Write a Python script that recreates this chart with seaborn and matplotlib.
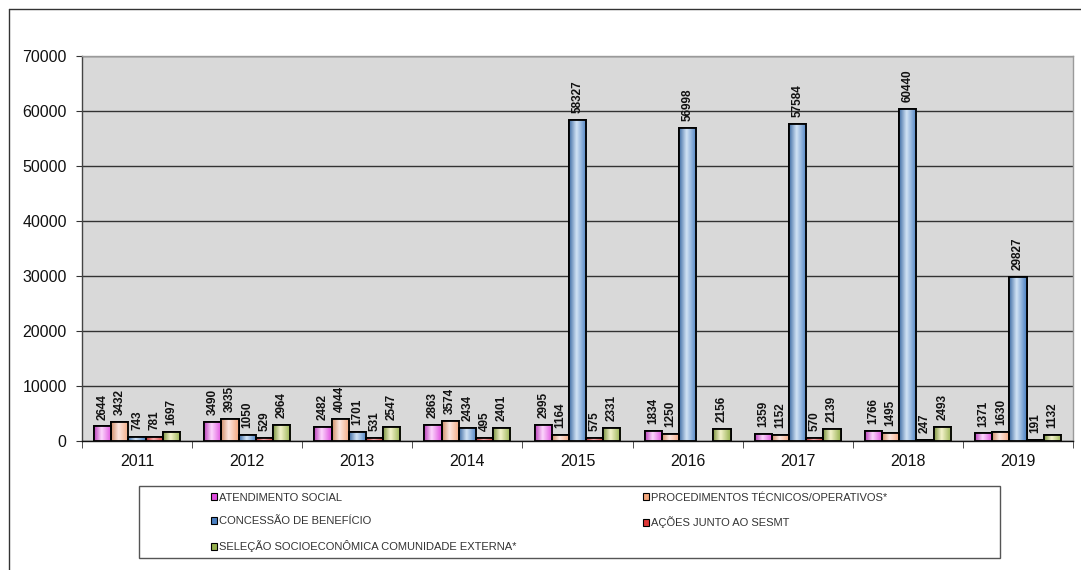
import numpy as np
import pandas as pd
import matplotlib
matplotlib.use("Agg")
import matplotlib.pyplot as plt
import seaborn as sns
from matplotlib.colors import LinearSegmentedColormap, to_rgb
from matplotlib.patches import Patch, Rectangle
from matplotlib.lines import Line2D

# dados
years = ["2011", "2012", "2013", "2014", "2015", "2016", "2017", "2018", "2019"]
atendimento = [2644, 3490, 2482, 2863, 2995, 1834, 1359, 1766, 1371]
procedimentos = [3432, 3935, 4044, 3574, 1164, 1250, 1152, 1495, 1630]
concessao = [743, 1050, 1701, 2434, 58327, 56998, 57584, 60440, 29827]
acoes = [781, 529, 531, 495, 575, np.nan, 570, 247, 191]
selecao = [1697, 2964, 2547, 2401, 2331, 2156, 2139, 2493, 1132]

series_names = [
    "ATENDIMENTO SOCIAL",
    "PROCEDIMENTOS TÉCNICOS/OPERATIVOS*",
    "CONCESSÃO DE BENEFÍCIO",
    "AÇÕES JUNTO AO SESMT",
    "SELEÇÃO SOCIOECONÔMICA COMUNIDADE EXTERNA*",
]
colors = ["#de4ede", "#f4a77c", "#4a80c2", "#df3838", "#95b04e"]
highlights = ["#fcd6fc", "#fde8e2", "#d2e3f5", "#f8b4b4", "#f4f3cc"]

df = pd.DataFrame({
    "ano": years,
    series_names[0]: atendimento,
    series_names[1]: procedimentos,
    series_names[2]: concessao,
    series_names[3]: acoes,
    series_names[4]: selecao,
}).melt(id_vars="ano", var_name="serie", value_name="valor").dropna()

sns.set_style("white")
plt.rcParams["font.family"] = ["Liberation Sans", "DejaVu Sans"]

W, H = 1081, 570
fig = plt.figure(figsize=(W / 100, H / 100), dpi=100)
ax = fig.add_axes([82 / W, 1 - 441 / H, (1073 - 82) / W, (441 - 56) / H])
ax.set_facecolor("#d9d9d9")

sns.barplot(data=df, x="ano", y="valor", hue="serie", order=years,
            hue_order=series_names, palette=dict(zip(series_names, colors)),
            width=0.78, edgecolor="black", linewidth=1.3, errorbar=None,
            legend=False, ax=ax)

# gradiente estilo Excel em cada barra
grad = np.linspace(0, 1, 64).reshape(1, -1)
for cont, base, light in zip(ax.containers, colors, highlights):
    b = np.array(to_rgb(base))
    cmap = LinearSegmentedColormap.from_list("g", [(0, b * 0.85), (0.42, to_rgb(light)), (1, b)])
    for bar in cont:
        h = bar.get_height()
        if not np.isfinite(h) or h <= 0:
            continue
        x0, w = bar.get_x(), bar.get_width()
        im = ax.imshow(grad, cmap=cmap, extent=[x0, x0 + w, 0, h], aspect="auto",
                       interpolation="bilinear", zorder=bar.get_zorder() + 0.1)
        im.set_clip_path(bar)
        ax.add_patch(Rectangle((x0, 0), w, h, fill=False, edgecolor="black",
                               lw=1.3, zorder=bar.get_zorder() + 0.2))
    labels = [f"{v:.0f}" if np.isfinite(v) else "" for v in cont.datavalues]
    ax.bar_label(cont, labels=labels, rotation=90, padding=5, fontsize=8.5,
                 fontweight="bold", color="#111",
                 family=["Liberation Sans Narrow", "Liberation Sans"])

ax.set_xlim(-0.5, 8.5)
ax.set_ylim(0, 70000)
ax.set_axisbelow(True)
ax.yaxis.grid(True, color="#333333", lw=1)
ax.set_xlabel("")
ax.set_ylabel("")

ax.set_yticks(range(0, 70001, 10000))
ax.tick_params(axis="y", left=True, length=4, direction="out", color="#333",
               labelsize=11.5, pad=7, labelcolor="#111")
ax.set_xticks(range(len(years)))
ax.set_xticklabels(years)
ax.tick_params(axis="x", which="major", bottom=False, length=0, labelsize=11.5,
               pad=9, labelcolor="#111")
ax.set_xticks(np.arange(-0.5, 9, 1), minor=True)
ax.tick_params(axis="x", which="minor", bottom=True, length=5, color="#333")

ax.spines["left"].set_color("#444")
ax.spines["bottom"].set_color("#111")
ax.spines["top"].set_color("#9a9a9a")
ax.spines["right"].set_color("#9a9a9a")
for s in ax.spines.values():
    s.set_linewidth(1)

# legenda em duas colunas dentro de uma caixa
handles = [Patch(facecolor=c, edgecolor="black", lw=0.8) for c in colors]
leg_kw = dict(frameon=False, fontsize=8, handlelength=0.55, handleheight=0.55,
              handletextpad=0.25, labelspacing=1.25, borderpad=0,
              loc="upper left", labelcolor="#333")
fig.legend([handles[0], handles[2], handles[4]],
           [series_names[0], series_names[2], series_names[4]],
           bbox_to_anchor=(205 / W, 1 - 487 / H), **leg_kw)
fig.legend([handles[1], handles[3]], [series_names[1], series_names[3]],
           bbox_to_anchor=(637 / W, 1 - 487 / H), **leg_kw)

fig.add_artist(Rectangle((139 / W, 1 - 558 / H), (1000 - 139) / W, (558 - 486) / H,
                         transform=fig.transFigure, fill=False,
                         edgecolor="#555", lw=1))
# moldura externa
fig.add_artist(Line2D([9 / W, 9 / W], [0, 1 - 9 / H], transform=fig.transFigure,
                      color="#333", lw=1))
fig.add_artist(Line2D([9 / W, 1], [1 - 9 / H, 1 - 9 / H], transform=fig.transFigure,
                      color="#333", lw=1))

fig.savefig("out.png", dpi=100)
